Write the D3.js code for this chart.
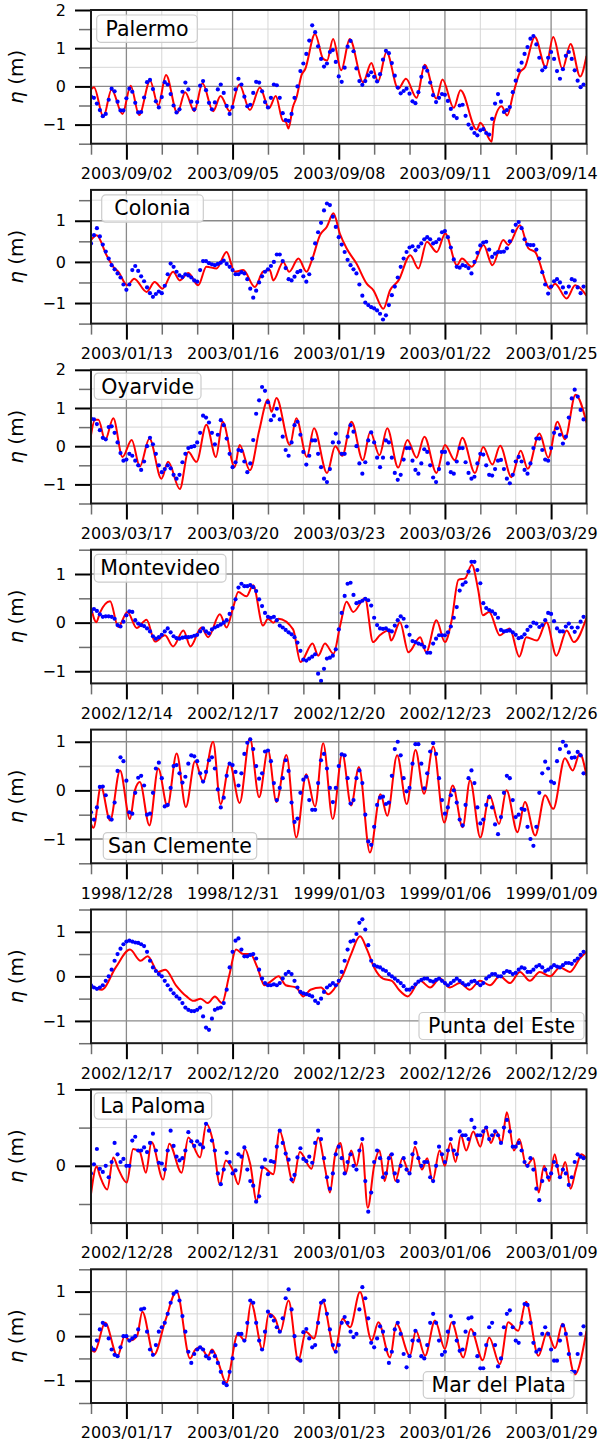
<!DOCTYPE html>
<html>
<head>
<meta charset="utf-8">
<script src="https://cdn.jsdelivr.net/npm/d3@7"></script>
<style>
  body { margin: 0; background: #fff; }
  svg { display: block; font-family: "DejaVu Sans", sans-serif; }
</style>
</head>
<body>
<div id="chart"></div>
<script>
// stations, first day of each 14-day window, y ranges
const stations = ["Palermo", "Colonia", "Oyarvide", "Montevideo", "San Clemente", "Punta del Este", "La Paloma", "Mar del Plata"];
const startDays = ["2003-09-01", "2003-01-12", "2003-03-16", "2002-12-13", "1998-12-27", "2002-12-16", "2002-12-27", "2003-01-16"];
const yDomains = [[-1.5, 2], [-1.5, 1.75], [-1.5, 2], [-1.25, 1.5], [-1.5, 1.25], [-1.5, 1.5], [-0.75, 1], [-1.5, 1.5]];

// model sea level (red line): [days from start, eta in m]
const modelPalermo = [[0,-0.08],[0.085,-0.02],[0.35,-0.8],[0.58,-0.08],[0.89,-0.72],[1.12,0.02],[1.36,-0.75],[1.67,0.15],[1.9,-0.5],[2.12,0.3],[2.44,-0.7],[2.66,-0.15],[2.92,-0.65],[3.15,0.08],[3.45,-0.65],[3.66,-0.25],[3.92,-0.65],[4.19,0.05],[4.49,-0.62],[4.77,-0.03],[5.03,-0.57],[5.22,-0.25],[5.42,-0.9],[5.5,-0.92],[5.58,-1.1],[5.7,-0.55],[5.81,-0.28],[5.95,0.3],[6.05,0.45],[6.33,1.37],[6.56,0.72],[6.67,0.68],[6.84,1.24],[7.07,0.42],[7.31,1.24],[7.69,0.11],[7.92,0.61],[8.11,0.13],[8.35,0.9],[8.68,-0.06],[8.9,0.2],[9.2,-0.3],[9.43,0.57],[9.76,-0.32],[9.93,0.18],[10.25,-0.56],[10.44,-0.1],[10.9,-1.13],[11.0,-0.95],[11.32,-1.45],[11.38,-0.95],[11.6,-0.52],[11.76,-0.76],[11.93,-0.19],[12.12,0.37],[12.26,0.5],[12.54,1.29],[12.85,0.5],[13.06,1.29],[13.32,0.46],[13.55,1.11],[13.82,0.26],[14,0.8]];
const modelColonia = [[0,0.53],[0.16,0.65],[0.44,0.16],[0.63,-0.12],[0.77,-0.24],[1.03,-0.57],[1.22,-0.41],[1.57,-0.73],[1.8,-0.49],[2.02,-0.65],[2.32,-0.24],[2.51,-0.45],[2.75,-0.27],[3.03,-0.57],[3.26,-0.12],[3.55,-0.16],[3.83,0.24],[4.06,-0.24],[4.3,-0.2],[4.63,-0.61],[4.86,-0.24],[5.05,-0.2],[5.15,-0.45],[5.43,0.0],[5.6,-0.24],[5.86,0.08],[6.09,-0.24],[6.24,0.04],[6.47,0.65],[6.66,0.85],[6.85,1.18],[7.03,0.69],[7.22,0.33],[7.5,-0.04],[7.79,-0.53],[7.98,-0.69],[8.26,-1.14],[8.45,-0.69],[8.69,-0.45],[9.02,0.16],[9.25,-0.16],[9.49,0.49],[9.77,0.24],[10.01,0.69],[10.34,-0.08],[10.48,0.08],[10.76,-0.12],[11.09,0.41],[11.34,-0.08],[11.65,0.53],[11.79,0.41],[12.12,0.89],[12.36,0.33],[12.55,0.24],[12.97,-0.65],[13.11,-0.53],[13.44,-0.89],[13.68,-0.57],[14,-0.82]];
const modelOyarvide = [[0,0.29],[0.11,0.69],[0.21,0.69],[0.4,0.16],[0.63,0.73],[0.89,-0.28],[1.15,0.16],[1.38,-0.53],[1.65,0.2],[1.99,-0.85],[2.18,-0.41],[2.51,-1.12],[2.75,-0.15],[2.98,-0.41],[3.26,0.56],[3.53,-0.28],[3.72,0.64],[4.06,-0.55],[4.2,0.03],[4.49,-0.63],[4.75,0.4],[5.0,1.22],[5.1,0.9],[5.24,1.26],[5.62,0.03],[5.8,0.73],[6.1,-0.28],[6.3,0.47],[6.67,-0.7],[6.9,0.0],[7.1,-0.25],[7.36,0.64],[7.68,-0.37],[7.89,0.38],[8.15,-0.24],[8.37,0.47],[8.68,-0.56],[8.94,0.16],[9.2,-0.3],[9.42,0.25],[9.76,-0.7],[10.0,0.03],[10.28,-0.37],[10.49,0.22],[10.85,-0.7],[11.08,-0.02],[11.34,-0.48],[11.56,0.01],[11.88,-0.81],[12.14,-0.12],[12.34,-0.59],[12.67,0.33],[12.92,-0.3],[13.18,0.64],[13.39,0.18],[13.69,1.35],[14,0.62]];
const modelMontevideo = [[0,0.32],[0.15,0.01],[0.25,0.2],[0.54,0.44],[0.77,-0.09],[1.03,0.22],[1.29,-0.11],[1.57,0.06],[1.81,-0.39],[2.09,-0.26],[2.32,-0.49],[2.61,-0.16],[2.81,-0.49],[3.12,-0.1],[3.31,-0.3],[3.64,0.17],[3.83,-0.1],[4.02,0.32],[4.16,0.63],[4.39,0.54],[4.58,0.77],[4.86,-0.06],[5.0,0.08],[5.15,0.0],[5.3,0.08],[5.71,-0.14],[5.92,-0.81],[6.26,-0.43],[6.42,-0.68],[6.61,-0.43],[6.85,-0.64],[7.04,-0.06],[7.22,0.43],[7.41,0.22],[7.74,0.5],[7.97,-0.4],[8.16,-0.26],[8.4,-0.16],[8.48,-0.37],[8.73,0.01],[8.97,-0.61],[9.3,-0.3],[9.47,-0.61],[9.76,0.05],[10.0,-0.4],[10.19,0.05],[10.38,0.88],[10.57,0.91],[10.76,1.19],[10.94,0.67],[11.07,0.15],[11.25,0.22],[11.55,-0.26],[11.83,-0.12],[12.1,-0.7],[12.3,-0.3],[12.6,-0.37],[12.87,0.01],[13.15,-0.68],[13.44,-0.16],[13.64,-0.4],[14,0.1]];
const modelSanClemente = [[0,-0.69],[0.07,-0.77],[0.28,0.08],[0.54,-0.62],[0.82,0.41],[1.1,-0.59],[1.24,0.0],[1.38,0.17],[1.65,-0.72],[1.9,0.45],[2.16,-0.33],[2.42,0.76],[2.68,-0.34],[2.94,0.6],[3.17,0.18],[3.45,1.0],[3.66,-0.28],[3.92,0.55],[4.2,-0.26],[4.49,1.07],[4.75,-0.14],[5.0,0.83],[5.24,-0.24],[5.52,0.73],[5.8,-0.97],[6.08,0.33],[6.33,-0.33],[6.56,0.97],[6.83,-0.59],[7.1,0.76],[7.35,-0.31],[7.57,0.48],[7.88,-1.28],[8.18,-0.08],[8.37,-0.52],[8.65,0.72],[8.92,-0.28],[9.17,0.83],[9.41,-0.07],[9.67,0.9],[9.98,-0.66],[10.22,0.1],[10.5,-0.76],[10.71,0.21],[11.0,-0.97],[11.26,-0.1],[11.53,-0.69],[11.74,0.0],[12.05,-0.86],[12.26,-0.24],[12.55,-0.93],[12.83,-0.1],[13.06,-0.38],[13.39,0.66],[13.61,0.41],[13.81,0.76],[14,0.3]];
const modelPuntaDelEste = [[0,-0.2],[0.3,-0.3],[0.7,0.2],[1.1,0.6],[1.4,0.35],[1.6,0.45],[1.9,0.1],[2.1,0.15],[2.4,-0.2],[2.7,-0.45],[2.9,-0.55],[3.1,-0.5],[3.3,-0.6],[3.5,-0.45],[3.7,-0.6],[3.9,0.0],[4.1,0.6],[4.3,0.5],[4.5,0.5],[4.7,0.2],[4.9,-0.2],[5.1,-0.1],[5.3,0.0],[5.5,-0.2],[5.8,-0.25],[6.0,-0.45],[6.2,-0.3],[6.5,-0.25],[6.7,-0.4],[6.9,-0.25],[7.1,0.0],[7.35,0.5],[7.6,0.9],[7.8,0.6],[8.0,0.2],[8.25,-0.05],[8.5,-0.1],[8.7,-0.3],[8.95,-0.45],[9.3,-0.1],[9.58,-0.25],[9.86,-0.05],[10.14,-0.25],[10.42,-0.15],[10.7,-0.3],[10.99,-0.1],[11.27,-0.2],[11.55,0.0],[11.84,-0.15],[12.12,0.1],[12.4,-0.1],[12.68,0.1],[12.97,0.0],[13.25,0.2],[13.53,0.1],[13.81,0.4],[14,0.55]];
const modelLaPaloma = [[0,-0.37],[0.16,-0.01],[0.25,-0.13],[0.46,-0.31],[0.63,0.11],[0.77,-0.04],[1.01,-0.22],[1.19,0.22],[1.38,0.18],[1.55,-0.09],[1.71,0.31],[2.04,-0.18],[2.21,0.29],[2.56,-0.09],[2.75,0.37],[3.08,0.11],[3.26,0.55],[3.45,0.31],[3.64,-0.24],[3.81,0.07],[4.02,-0.07],[4.16,-0.24],[4.35,0.22],[4.5,0.02],[4.68,-0.46],[4.86,-0.02],[5.15,-0.11],[5.33,0.46],[5.5,0.18],[5.71,-0.22],[5.9,0.18],[6.23,-0.04],[6.42,0.37],[6.62,-0.05],[6.75,-0.35],[6.9,0.15],[7.05,0.3],[7.2,-0.1],[7.35,0.2],[7.5,0.0],[7.65,0.3],[7.82,-0.55],[8.0,0.0],[8.15,0.2],[8.3,-0.2],[8.45,0.15],[8.6,-0.2],[8.8,0.1],[9.0,-0.1],[9.15,0.25],[9.35,-0.05],[9.5,0.1],[9.65,-0.2],[9.85,0.2],[10.0,0.0],[10.15,0.3],[10.3,0.05],[10.45,0.4],[10.6,0.2],[10.8,0.45],[11.0,0.25],[11.15,0.5],[11.3,0.3],[11.45,0.45],[11.6,0.3],[11.75,0.7],[11.95,0.2],[12.1,0.35],[12.3,0.0],[12.5,0.1],[12.65,-0.35],[12.8,0.0],[12.95,-0.2],[13.1,0.15],[13.25,-0.15],[13.4,0.05],[13.55,-0.3],[13.7,-0.05],[13.85,0.15],[14,0.1]];
const modelMarDelPlata = [[0,-0.3],[0.1,-0.35],[0.4,0.3],[0.75,-0.45],[0.95,0.0],[1.1,-0.1],[1.3,0.0],[1.45,0.55],[1.78,-0.42],[2.1,0.35],[2.42,1.0],[2.8,-0.5],[2.95,-0.3],[3.1,-0.25],[3.3,-0.45],[3.42,-0.3],[3.6,-0.6],[3.82,-1.05],[4.15,0.05],[4.35,-0.1],[4.52,0.75],[4.85,-0.3],[5.02,0.5],[5.2,0.4],[5.35,0.1],[5.58,0.8],[5.86,-0.55],[6.07,0.1],[6.3,-0.05],[6.54,0.8],[6.89,-0.33],[7.11,0.39],[7.32,0.2],[7.6,0.99],[7.93,-0.1],[8.12,0.31],[8.45,-0.48],[8.63,0.28],[9.01,-0.44],[9.18,0.12],[9.44,-0.44],[9.72,0.35],[10.0,-0.29],[10.19,0.31],[10.52,-0.48],[10.73,0.16],[11.07,-0.54],[11.25,-0.03],[11.55,-0.63],[11.79,0.31],[12.07,0.12],[12.29,0.77],[12.64,-0.44],[12.89,0.09],[13.11,-0.27],[13.32,0.28],[13.67,-0.86],[14,0.12]];

// observed sea level (blue dots), one value every 2 hours from the start day
const obsPalermo = [
  -0.27,-0.3,-0.45,-0.62,-0.78,-0.72,-0.35,-0.06,-0.13,-0.4,-0.63,-0.63,
  -0.31,-0.06,-0.14,-0.43,-0.68,-0.67,-0.29,0.11,0.17,-0.07,-0.39,-0.55,
  -0.28,0.11,0.05,-0.2,-0.5,-0.68,-0.6,-0.14,0.1,-0.08,-0.4,-0.6,
  -0.41,0.02,0.14,-0.1,-0.43,-0.6,-0.42,-0.08,0.05,-0.17,-0.51,-0.72,
  -0.54,-0.08,0.2,0.05,-0.27,-0.52,-0.48,-0.17,0.12,0.1,-0.13,-0.41,
  -0.55,-0.3,0.05,0.03,-0.3,-0.7,-0.88,-0.9,-0.72,-0.3,0.0,0.4,
  0.6,0.85,1.2,1.6,1.42,1.05,0.72,0.52,0.6,0.9,0.95,0.64,
  0.26,0.12,0.49,1.04,1.19,0.92,0.47,0.14,0.04,0.14,0.29,0.37,
  0.25,0.13,0.32,0.7,0.93,0.87,0.61,0.28,-0.03,-0.18,-0.12,-0.06,
  -0.19,-0.39,-0.44,-0.15,0.25,0.5,0.41,0.1,-0.23,-0.41,-0.3,-0.2,
  -0.22,-0.38,-0.59,-0.77,-0.83,-0.5,-0.48,-0.77,-1.0,-1.1,-1.22,-1.28,
  -1.15,-1.12,-1.22,-1.26,-0.85,-0.45,-0.2,-0.4,-0.67,-0.62,-0.54,-0.15,
  0.15,0.42,0.62,0.85,1.03,1.25,1.32,1.1,0.75,0.42,0.5,0.75,
  0.9,0.72,0.4,0.2,0.45,0.8,0.9,0.72,0.42,0.15,-0.02,0.05];
const obsColonia = [
  0.45,0.65,0.82,0.62,0.42,0.25,0.08,-0.08,-0.18,-0.28,-0.38,-0.55,
  -0.68,-0.55,-0.2,-0.1,-0.22,-0.35,-0.47,-0.62,-0.76,-0.85,-0.78,-0.72,
  -0.76,-0.58,-0.3,-0.04,-0.12,-0.24,-0.33,-0.37,-0.3,-0.33,-0.38,-0.45,
  -0.48,-0.2,0.02,0.02,-0.03,-0.06,-0.08,-0.05,-0.02,0.03,-0.05,-0.12,
  -0.2,-0.3,-0.3,-0.25,-0.28,-0.42,-0.65,-0.87,-0.7,-0.5,-0.35,-0.24,
  -0.18,-0.1,0.0,0.18,0.18,0.02,-0.15,-0.42,-0.45,-0.36,-0.25,-0.22,
  -0.35,-0.48,-0.3,0.08,0.45,0.72,0.95,1.25,1.42,1.38,1.1,0.85,
  0.6,0.42,0.24,0.05,-0.08,-0.18,-0.28,-0.55,-0.82,-0.99,-1.05,-1.1,
  -1.13,-1.18,-1.26,-1.4,-1.3,-1.05,-0.81,-0.6,-0.38,-0.12,0.08,0.24,
  0.35,0.38,0.28,0.37,0.45,0.55,0.6,0.55,0.45,0.48,0.55,0.72,
  0.75,0.6,0.35,0.06,-0.12,-0.14,-0.08,-0.1,-0.15,-0.28,0.0,0.22,
  0.4,0.47,0.49,0.3,0.12,0.2,0.24,0.24,0.25,0.33,0.5,0.75,
  0.9,0.97,0.82,0.55,0.42,0.41,0.41,0.3,0.08,-0.25,-0.55,-0.77,
  -0.6,-0.47,-0.42,-0.5,-0.62,-0.75,-0.6,-0.42,-0.45,-0.62,-0.76,-0.6];
const obsOyarvide = [
  0.72,0.7,0.58,0.42,0.22,0.18,0.5,0.52,0.35,0.1,-0.18,-0.38,
  -0.35,-0.2,-0.25,-0.38,-0.5,-0.62,-0.4,0.0,0.22,0.05,-0.2,-0.5,
  -0.68,-0.6,-0.5,-0.58,-0.75,-0.85,-0.75,-0.42,-0.2,-0.05,-0.02,0.0,
  0.1,0.35,0.8,0.75,0.62,0.35,0.05,0.3,0.68,0.55,0.2,-0.2,
  -0.55,-0.42,-0.1,-0.12,-0.4,-0.68,-0.45,0.16,0.85,1.2,1.55,1.45,
  1.15,0.68,0.8,0.98,0.7,0.25,-0.1,-0.25,0.1,0.55,0.64,0.3,
  -0.15,-0.48,-0.25,0.15,0.15,-0.2,-0.55,-0.85,-0.94,-0.6,0.1,0.33,
  0.1,-0.2,-0.2,0.25,0.55,0.38,0.0,-0.45,-0.72,-0.42,0.15,0.36,
  0.1,-0.3,-0.55,-0.3,0.15,0.1,-0.3,-0.7,-0.88,-0.75,-0.35,-0.05,
  -0.05,-0.38,-0.62,-0.72,-0.45,-0.08,-0.15,-0.5,-0.82,-0.94,-0.6,-0.15,
  -0.15,-0.45,-0.68,-0.72,-0.4,-0.05,-0.05,-0.42,-0.7,-0.85,-0.8,-0.45,
  -0.2,-0.22,-0.5,-0.75,-0.77,-0.6,-0.38,-0.36,-0.6,-0.85,-0.97,-0.75,
  -0.4,-0.28,-0.4,-0.62,-0.72,-0.45,-0.05,0.2,0.2,-0.1,-0.35,-0.38,
  -0.05,0.35,0.47,0.3,0.07,0.25,0.75,1.25,1.48,1.3,0.95,0.7];
const obsMontevideo = [
  0.22,0.28,0.24,0.17,0.12,0.13,0.13,0.12,0.08,-0.05,-0.08,0.02,
  0.15,0.23,0.22,0.05,-0.02,-0.05,-0.07,-0.12,-0.18,-0.28,-0.33,-0.3,
  -0.25,-0.18,-0.12,-0.2,-0.28,-0.32,-0.33,-0.31,-0.3,-0.3,-0.29,-0.27,
  -0.25,-0.18,-0.12,-0.18,-0.22,-0.14,-0.1,-0.07,-0.04,0.0,0.05,0.18,
  0.3,0.48,0.72,0.8,0.75,0.75,0.77,0.73,0.65,0.48,0.34,0.2,
  0.12,0.1,0.12,0.05,-0.06,-0.1,-0.15,-0.2,-0.24,-0.3,-0.41,-0.58,
  -0.76,-0.78,-0.74,-0.7,-0.65,-1.05,-1.2,-0.95,-0.74,-0.72,-0.68,-0.55,
  -0.14,0.2,0.55,0.8,0.82,0.57,0.4,0.42,0.45,0.49,0.46,0.35,
  0.1,-0.05,-0.12,-0.13,-0.12,-0.16,-0.18,-0.06,0.05,0.13,0.08,-0.08,
  -0.25,-0.38,-0.4,-0.43,-0.45,-0.5,-0.62,-0.62,-0.43,-0.33,-0.26,-0.26,
  -0.26,-0.2,-0.08,0.1,0.32,0.66,0.78,0.83,1.05,1.25,1.25,1.08,
  0.81,0.4,0.3,0.26,0.23,0.18,0.1,-0.15,-0.18,-0.17,-0.16,-0.2,
  -0.25,-0.32,-0.3,-0.24,-0.15,-0.08,0.0,-0.02,-0.09,-0.05,0.05,0.2,
  0.18,0.03,-0.12,-0.18,-0.18,-0.08,-0.02,-0.1,-0.19,-0.1,0.02,0.12];
const obsSanClemente = [
  -0.45,-0.6,-0.35,0.07,0.08,-0.1,-0.55,-0.6,-0.25,0.4,0.68,0.6,
  0.2,-0.45,-0.48,-0.05,0.26,0.3,0.1,-0.5,-0.48,-0.05,0.45,0.57,
  0.25,-0.33,-0.3,0.05,0.5,0.52,0.35,0.16,0.28,0.55,0.72,0.7,
  0.6,0.35,0.18,0.38,0.62,0.68,0.45,0.02,-0.35,-0.15,0.3,0.55,
  0.52,0.38,0.1,0.35,0.75,0.98,1.05,0.85,0.5,0.24,0.35,0.8,
  0.82,0.6,0.15,-0.2,0.05,0.25,0.62,0.4,-0.25,-0.65,-0.58,-0.05,
  0.22,0.28,-0.2,-0.4,-0.4,0.15,0.62,0.75,0.45,0.05,-0.24,0.05,
  0.5,0.74,0.72,0.25,-0.27,-0.2,0.25,0.41,0.15,-0.5,-1.05,-1.12,
  -0.75,-0.3,-0.15,-0.13,-0.28,-0.25,0.3,0.85,1.0,0.72,0.25,-0.02,
  0.05,0.55,0.95,0.95,0.55,0.04,0.35,0.8,0.97,0.75,0.25,-0.2,
  -0.48,-0.35,-0.1,0.0,-0.25,-0.6,-0.72,-0.3,0.25,0.41,0.15,-0.35,
  -0.68,-0.6,-0.3,-0.14,-0.35,-0.7,-0.9,-0.55,-0.05,0.3,0.25,-0.2,
  -0.55,-0.5,-0.38,-0.4,-0.75,-1.0,-1.14,-0.75,-0.05,0.35,0.59,0.45,
  0.18,0.15,0.6,0.85,1.0,0.92,0.78,0.67,0.68,0.79,0.72,0.35];
const obsPuntaDelEste = [
  -0.2,-0.25,-0.28,-0.25,-0.2,-0.1,0.0,0.15,0.35,0.5,0.62,0.72,
  0.78,0.8,0.78,0.76,0.75,0.72,0.68,0.55,0.35,0.2,0.12,0.05,
  0.0,-0.1,-0.2,-0.3,-0.38,-0.45,-0.5,-0.6,-0.7,-0.75,-0.78,-0.78,
  -0.75,-0.7,-0.9,-1.15,-1.2,-0.95,-0.75,-0.72,-0.7,-0.6,-0.3,0.2,
  0.55,0.8,0.85,0.6,0.45,0.45,0.48,0.5,0.4,0.15,-0.05,-0.15,
  -0.2,-0.2,-0.18,-0.2,-0.15,-0.05,0.05,0.1,0.05,-0.1,-0.25,-0.35,
  -0.38,-0.4,-0.42,-0.45,-0.55,-0.6,-0.5,-0.35,-0.25,-0.2,-0.15,-0.2,
  -0.1,0.1,0.35,0.6,0.78,0.8,0.95,1.2,1.28,1.05,0.7,0.35,
  0.25,0.22,0.2,0.15,0.12,0.05,0.0,-0.05,-0.1,-0.15,-0.22,-0.3,
  -0.3,-0.25,-0.18,-0.12,-0.08,-0.05,-0.05,-0.1,-0.12,-0.08,-0.05,-0.1,
  -0.15,-0.2,-0.15,-0.1,-0.05,-0.1,-0.15,-0.2,-0.18,-0.12,-0.1,-0.15,
  -0.2,-0.15,-0.05,0.0,0.05,0.05,0.0,0.0,0.08,0.12,0.1,0.05,
  0.08,0.15,0.2,0.18,0.1,0.1,0.15,0.22,0.25,0.2,0.12,0.15,
  0.2,0.25,0.22,0.2,0.25,0.3,0.3,0.28,0.35,0.4,0.48,0.55];
const obsLaPaloma = [
  -0.1,0.02,0.22,-0.04,-0.08,0.0,-0.15,0.05,0.3,0.15,0.05,0.09,
  0.0,0.0,0.33,0.38,0.2,0.2,0.24,0.18,0.3,0.42,0.2,0.04,
  0.03,-0.05,0.2,0.46,0.26,0.12,0.07,0.1,0.2,0.44,0.32,0.26,
  0.32,0.28,0.24,0.55,0.46,0.33,0.2,-0.1,-0.24,-0.05,0.17,0.05,
  -0.1,-0.06,0.15,0.12,0.24,-0.05,-0.2,-0.26,-0.47,-0.4,-0.02,0.08,
  -0.11,0.06,0.05,0.25,0.46,0.3,0.16,0.08,-0.18,-0.12,0.11,0.23,
  0.09,0.06,0.12,0.04,0.3,0.46,0.35,0.1,-0.15,-0.3,-0.1,0.15,
  0.25,0.1,-0.1,0.05,0.15,0.0,-0.05,0.2,0.35,-0.2,-0.6,-0.35,
  0.05,0.2,0.1,-0.15,-0.1,0.1,0.15,-0.1,-0.2,0.0,0.1,-0.05,
  -0.1,0.15,0.3,0.1,0.0,0.05,0.05,-0.15,-0.2,0.0,0.25,0.15,
  0.05,0.2,0.35,0.2,0.15,0.45,0.4,0.4,0.35,0.6,0.5,0.4,
  0.4,0.45,0.5,0.35,0.4,0.45,0.4,0.3,0.5,0.6,0.45,0.25,
  0.25,0.3,0.2,0.05,0.0,0.1,-0.05,-0.3,-0.45,-0.2,-0.05,-0.15,
  -0.1,0.05,0.0,-0.15,-0.05,-0.1,-0.25,-0.15,0.05,0.15,0.12,0.1];
const obsMarDelPlata = [
  -0.25,-0.3,-0.1,0.15,0.3,0.25,-0.05,-0.3,-0.42,-0.45,-0.25,0.0,
  0.0,-0.1,-0.05,0.0,0.15,0.6,0.62,0.1,-0.3,-0.42,-0.2,0.1,
  0.2,0.3,0.5,0.75,0.95,1.0,0.8,0.45,0.1,-0.35,-0.6,-0.4,
  -0.3,-0.25,-0.3,-0.45,-0.5,-0.35,-0.45,-0.6,-0.8,-1.05,-1.1,-0.8,
  -0.5,-0.2,0.05,0.05,-0.1,0.3,0.8,0.75,0.3,-0.1,-0.3,0.1,
  0.55,0.45,0.35,0.2,0.1,0.4,0.85,1.05,0.6,0.0,-0.5,-0.55,
  0.09,0.16,-0.05,-0.25,-0.2,0.3,0.75,0.8,0.5,0.15,-0.2,-0.35,
  -0.2,0.3,0.43,0.3,0.1,-0.02,0.05,0.6,1.1,0.85,0.4,-0.15,
  -0.25,-0.05,0.22,0.1,-0.3,-0.6,-0.35,0.15,0.3,0.05,-0.4,-0.7,
  -0.45,-0.1,0.12,-0.1,-0.45,-0.5,-0.2,0.3,0.5,0.3,-0.1,-0.42,
  -0.35,0.1,0.45,0.3,-0.1,-0.33,-0.3,0.1,0.4,0.42,0.05,-0.45,
  -0.72,-0.72,-0.2,0.2,0.3,-0.2,-0.68,-0.5,0.2,0.5,0.58,0.2,
  -0.1,-0.15,0.3,0.72,0.7,0.3,-0.15,-0.35,-0.3,0.05,0.2,0.05,
  -0.3,-0.55,-0.55,-0.1,0.24,0.05,-0.4,-0.8,-0.8,-0.4,0.05,0.22];

const models = [modelPalermo, modelColonia, modelOyarvide, modelMontevideo, modelSanClemente, modelPuntaDelEste, modelLaPaloma, modelMarDelPlata];
const observations = [obsPalermo, obsColonia, obsOyarvide, obsMontevideo, obsSanClemente, obsPuntaDelEste, obsLaPaloma, obsMarDelPlata];

// layout
const W = 609, H = 1444;
const left = 91, plotW = 495.5, plotH = 133.7;
const top0 = 10, step = 179.9;
// legend boxes: x0, y0 (from panel top), x1, y1
const legendBoxes = [
  [96.7, 5, 197.3, 32.3], [101.7, 5, 203.3, 32.3], [94.3, 3.3, 201, 29.5], [94.3, 4.7, 226, 32.4],
  [103.3, 103, 256.7, 129.7], [419, 103, 584, 130], [94.3, 3.4, 211.7, 29.7], [423.3, 102.4, 574, 129]
];

const DAY = 864e5;
const fmt = d3.utcFormat("%Y/%m/%d");

const svg = d3.select("#chart").append("svg")
  .attr("width", W)
  .attr("height", H);

stations.forEach((name, i) => {
  const t0 = new Date(startDays[i] + "T00:00:00Z");
  const at = d => new Date(+t0 + d * DAY);

  const x = d3.scaleUtc().domain([t0, at(14)]).range([0, plotW]);
  const y = d3.scaleLinear().domain(yDomains[i]).range([plotH, 0]);

  const [lo, hi] = yDomains[i];
  const yMajor = d3.range(Math.ceil(lo), Math.floor(hi) + 1e-9, 1);
  const yMinor = d3.range(Math.ceil(lo * 2) / 2, hi + 1e-9, 0.5).filter(v => v % 1 !== 0);
  const xMinor = d3.range(0, 15).filter(k => (k - 1) % 3 !== 0).map(at);
  const xMajor = d3.range(1, 14, 3).map(at);

  const g = svg.append("g")
    .attr("transform", `translate(${left},${top0 + i * step})`);

  g.append("clipPath").attr("id", "clip" + i)
    .append("rect").attr("width", plotW).attr("height", plotH);

  // grid
  const grid = g.append("g");
  grid.selectAll(".hmin").data(yMinor).join("line")
    .attr("x1", 0).attr("x2", plotW).attr("y1", y).attr("y2", y)
    .attr("stroke", "#d6d6d6").attr("stroke-width", 1);
  grid.selectAll(".vmin").data(xMinor).join("line")
    .attr("y1", 0).attr("y2", plotH).attr("x1", x).attr("x2", x)
    .attr("stroke", "#d6d6d6").attr("stroke-width", 1);
  grid.selectAll(".hmaj").data(yMajor).join("line")
    .attr("x1", 0).attr("x2", plotW).attr("y1", y).attr("y2", y)
    .attr("stroke", "#8a8a8a").attr("stroke-width", 1.3);
  grid.selectAll(".vmaj").data(xMajor).join("line")
    .attr("y1", 0).attr("y2", plotH).attr("x1", x).attr("x2", x)
    .attr("stroke", "#8a8a8a").attr("stroke-width", 1.3);

  // data
  const plot = g.append("g").attr("clip-path", `url(#clip${i})`);

  const line = d3.line()
    .x(d => x(at(d[0])))
    .y(d => y(d[1]))
    .curve(d3.curveMonotoneX);

  plot.append("path")
    .datum(models[i])
    .attr("fill", "none")
    .attr("stroke", "#ff0000")
    .attr("stroke-width", 2)
    .attr("d", line);

  plot.selectAll("circle")
    .data(observations[i])
    .join("circle")
    .attr("cx", (d, k) => x(at(k / 12)))
    .attr("cy", d => y(d))
    .attr("r", 2.1)
    .attr("fill", "#0000ff");

  // axes
  const yAxis = g.append("g")
    .call(d3.axisLeft(y).tickValues(yMajor).tickSize(16).tickPadding(9).tickFormat(d3.format("d")));
  const yAxisMinor = g.append("g")
    .call(d3.axisLeft(y).tickValues(yMinor).tickSize(12).tickFormat(""));
  const xAxis = g.append("g")
    .attr("transform", `translate(0,${plotH})`)
    .call(d3.axisBottom(x).tickValues(xMajor).tickSize(16).tickPadding(8).tickFormat(fmt));
  const xAxisMinor = g.append("g")
    .attr("transform", `translate(0,${plotH})`)
    .call(d3.axisBottom(x).tickValues(xMinor).tickSize(11).tickFormat(""));

  [yAxis, yAxisMinor, xAxis, xAxisMinor].forEach(a => a.select(".domain").remove());
  [yAxis, xAxis].forEach(a => {
    a.selectAll(".tick line").attr("stroke", "#000").attr("stroke-width", 2);
    a.selectAll(".tick text").attr("fill", "#000").style("font-size", "16px").style("font-family", "DejaVu Sans");
  });
  [yAxisMinor, xAxisMinor].forEach(a => {
    a.selectAll(".tick line").attr("stroke", "#6e6e6e").attr("stroke-width", 1.5);
  });

  // frame
  g.append("rect")
    .attr("width", plotW).attr("height", plotH)
    .attr("fill", "none").attr("stroke", "#1a1a1a").attr("stroke-width", 2);

  // y label
  const yl = g.append("text")
    .attr("transform", `translate(${23 - left},${plotH / 2}) rotate(-90)`)
    .attr("text-anchor", "middle")
    .style("font-size", "20px");
  yl.append("tspan").style("font-style", "italic").text("η");
  yl.append("tspan").text(" (m)");

  // station label
  const b = legendBoxes[i];
  g.append("rect")
    .attr("x", b[0] - left).attr("y", b[1])
    .attr("width", b[2] - b[0]).attr("height", b[3] - b[1])
    .attr("rx", 4)
    .attr("fill", "#fff").attr("fill-opacity", 0.8)
    .attr("stroke", "#cccccc").attr("stroke-width", 1.2);
  g.append("text")
    .attr("x", (b[0] + b[2]) / 2 - left)
    .attr("y", b[1] + 20.5)
    .attr("text-anchor", "middle")
    .style("font-size", "20.5px")
    .text(name);
});
</script>
</body>
</html>
